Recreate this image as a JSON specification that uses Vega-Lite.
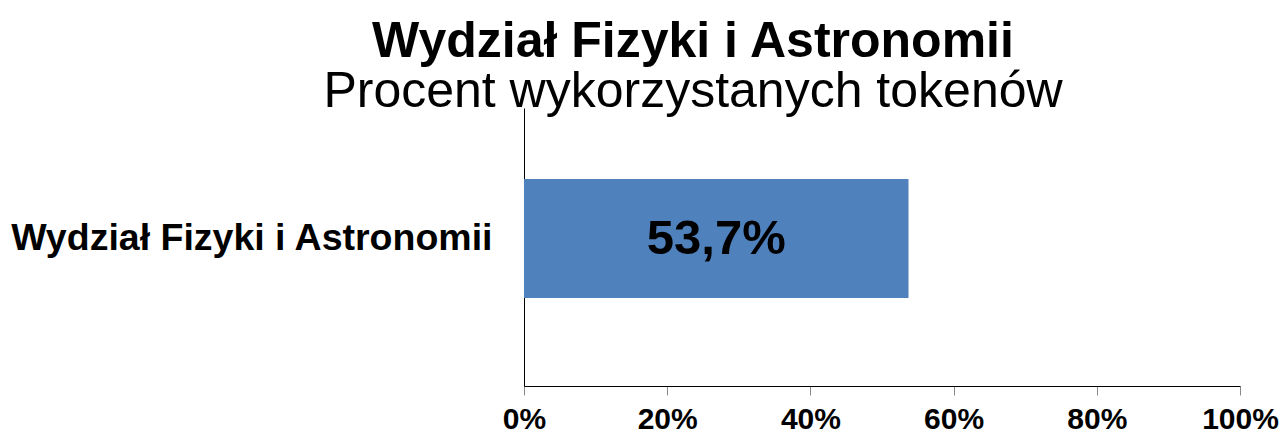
{
  "$schema": "https://vega.github.io/schema/vega-lite/v6.json",
  "autosize": "none",
  "width": 716,
  "height": 278,
  "padding": {"left": 524, "top": 108, "right": 42, "bottom": 51},
  "background": "white",
  "config": {
    "view": {"stroke": null},
    "locale": {"number": {"decimal": ",", "thousands": " ", "grouping": [3], "currency": ["", " zł"]}},
    "font": "Liberation Sans"
  },
  "title": {
    "text": "Wydział Fizyki i Astronomii",
    "subtitle": "Procent wykorzystanych tokenów",
    "anchor": "middle",
    "dx": -189,
    "font": "Liberation Sans",
    "fontSize": 50,
    "fontWeight": "bold",
    "color": "black",
    "subtitleFont": "Liberation Sans",
    "subtitleFontSize": 50,
    "subtitleFontWeight": "normal",
    "subtitleColor": "black",
    "subtitlePadding": 0,
    "offset": -9
  },
  "data": {"values": [{"unit": "Wydział Fizyki i Astronomii", "value": 0.537}]},
  "encoding": {
    "y": {
      "field": "unit",
      "type": "nominal",
      "scale": {"paddingInner": 0, "paddingOuter": 0.668, "align": 0.447},
      "axis": {
        "title": null,
        "ticks": false,
        "domainColor": "black",
        "domainWidth": 1,
        "labelFont": "Liberation Sans",
        "labelFontSize": 37.5,
        "labelFontWeight": "bold",
        "labelColor": "black",
        "labelPadding": 32,
        "labelLimit": 600
      }
    }
  },
  "layer": [
    {
      "mark": {"type": "bar", "color": "#4F81BD"},
      "encoding": {
        "x": {
          "field": "value",
          "type": "quantitative",
          "scale": {"domain": [0, 1], "nice": false},
          "axis": {
            "title": null,
            "values": [0, 0.2, 0.4, 0.6, 0.8, 1],
            "format": ".0%",
            "grid": false,
            "domainColor": "black",
            "domainWidth": 1,
            "tickColor": "#888888",
            "tickSize": 9,
            "tickWidth": 1,
            "labelFont": "Liberation Sans",
            "labelFontSize": 30,
            "labelFontWeight": "bold",
            "labelColor": "black",
            "labelPadding": 9,
            "labelFlush": false,
            "labelOverlap": false,
            "labelBound": false
          }
        }
      }
    },
    {
      "transform": [{"calculate": "datum.value / 2", "as": "mid"}],
      "mark": {"type": "text", "font": "Liberation Sans", "fontSize": 49, "fontWeight": "bold", "color": "black", "baseline": "middle", "align": "center"},
      "encoding": {
        "x": {"field": "mid", "type": "quantitative"},
        "text": {"field": "value", "type": "quantitative", "format": ".1%"}
      }
    }
  ]
}
